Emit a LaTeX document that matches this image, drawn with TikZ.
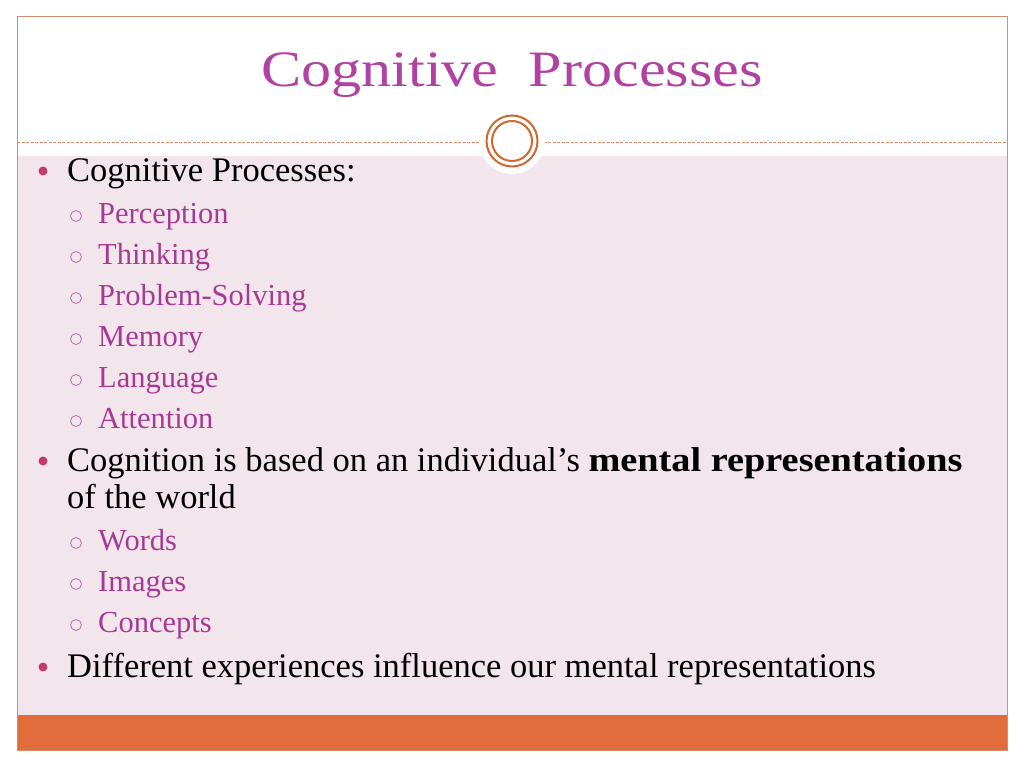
\documentclass[tikz,border=0pt]{standalone}
\usepackage{fontspec}
\setmainfont{Liberation Serif}
\newfontfamily\titulofont[FakeStretch=1.18]{Liberation Serif}
\newfontfamily\negritafont[FakeStretch=1.11]{Liberation Serif}
\begin{document}
\begin{tikzpicture}[x=1pt,y=-1pt,
        texto/.style={anchor=base west,inner sep=0pt,font=\fontsize{34.5}{40}\selectfont},
        subtexto/.style={anchor=base west,inner sep=0pt,text=lila,font=\fontsize{30.5}{36}\selectfont}]
        %colores
        \definecolor{rosa}{RGB}{242,229,235}
        \definecolor{naranja}{RGB}{224,109,59}
        \definecolor{borde}{RGB}{214,140,110}
        \definecolor{anillo}{RGB}{208,104,48}
        \definecolor{lila}{RGB}{166,58,148}
        \definecolor{titulo}{RGB}{178,66,162}
        \definecolor{punto}{RGB}{196,58,108}
        \colorlet{circ}{lila!75!white}

        \useasboundingbox[fill=white] (0,0) rectangle (1024,768);
        % Fondo, banda inferior, marco
        \fill[rosa] (17,156) rectangle (1007,715);
        \fill[naranja] (17,715) rectangle (1007,750);
        \draw[borde,line width=1pt] (17,17) rectangle (1007,750);
        \draw[borde,line width=1pt,dash pattern=on 3pt off 1.5pt] (17,142) -- (1007,142);

        % Anillos
        \fill[white] (512,141) circle (33pt);
        \draw[anillo,line width=2pt] (512,141) circle (25.5pt) (512,141) circle (20pt);

        % Titulo
        \node[anchor=base,inner sep=0pt,text=titulo,font=\titulofont\fontsize{51}{60}\selectfont] (tit) at (512,86) {Cognitive\ \ Processes};

        % Puntos principales
        \node[texto] (p1) at (67,181) {Cognitive Processes:};
        \node[texto] (p2) at (67,471) {Cognition is based on an individual’s {\negritafont\bfseries mental representations}};
        \node[texto] (p2b) at (67,508) {of the world};
        \node[texto] (p3) at (67,677) {Different experiences influence our mental representations};
        \foreach \y in {181,471,677}
            \fill[punto] (43,\y-10) circle (4.5pt);

        % Subpuntos
        \foreach \y/\txt [count=\i] in {223/Perception,264/Thinking,305/Problem-Solving,346/Memory,387/Language,428/Attention,550/Words,591/Images,632/Concepts}{
            \node[subtexto] (s\i) at (98,\y) {\txt};
            \draw[circ,line width=0.8pt] (76,\y-7) circle (5.5pt);
        }
\end{tikzpicture}
\end{document}
